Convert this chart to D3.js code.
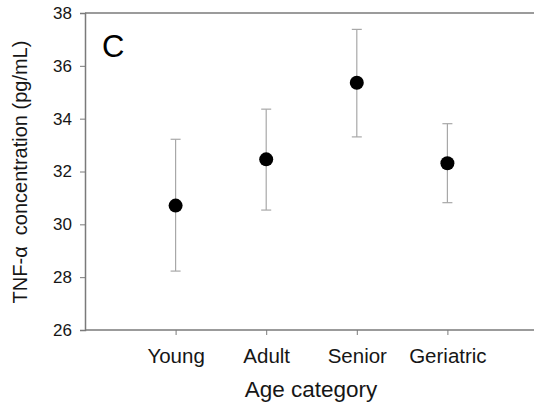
<!DOCTYPE html>
<html>
<head>
<meta charset="utf-8">
<script src="https://cdn.jsdelivr.net/npm/d3@7"></script>
<style>
  html, body { margin: 0; padding: 0; background: #fff; }
  svg { display: block; font-family: "Liberation Sans", Arial, sans-serif; }
</style>
</head>
<body>
<svg id="chart" width="534" height="405"></svg>
<script>
const categories = ["Young", "Adult", "Senior", "Geriatric"];
const means = [30.71, 32.46, 35.36, 32.31];
const upper = [33.22, 34.36, 37.38, 33.81];
const lower = [28.23, 30.54, 33.31, 30.82];
const yTicks = [26, 28, 30, 32, 34, 36, 38];
const panelLabel = "C";
const xTitle = "Age category";
const yTitle = "TNF-\u03b1  concentration (pg/mL)";

(function () {
const svg = d3.select("#chart");
const W = 534, H = 405;
const mLeft = 85, mTop = 13, mBottom = 330;
const fontFam = "'Liberation Sans', Arial, sans-serif";
const textColor = "#161616";

const x = d3.scalePoint().domain(categories).range([mLeft, mLeft + 90.6 * 5]).padding(1);
const y = d3.scaleLinear().domain([26, 38]).range([mBottom, mTop]);

const axisColor = "#7a7a7a";

// frame line at top (extends off right edge)
svg.append("line").attr("x1", mLeft).attr("x2", W).attr("y1", mTop).attr("y2", mTop)
  .attr("stroke", axisColor).attr("stroke-width", 1.5);

// Y axis
const yAxis = svg.append("g").attr("transform", `translate(${mLeft},0)`)
  .call(d3.axisLeft(y).tickValues(yTicks).tickSize(5).tickPadding(8).tickFormat(d3.format("d")));
yAxis.attr("font-family", null).attr("font-size", null);
yAxis.select(".domain").attr("stroke", axisColor).attr("stroke-width", 1.5);
yAxis.selectAll(".tick line").attr("stroke", axisColor).attr("stroke-width", 1);
yAxis.selectAll(".tick text").attr("fill", textColor).style("font-size", "17px")
  .style("font-family", fontFam);

// X axis
const xAxis = svg.append("g").attr("transform", `translate(0,${mBottom})`)
  .call(d3.axisBottom(x).tickSize(5).tickPadding(13));
xAxis.attr("font-family", null).attr("font-size", null);
xAxis.select(".domain").remove();
svg.append("line").attr("x1", mLeft).attr("x2", W).attr("y1", mBottom).attr("y2", mBottom)
  .attr("stroke", axisColor).attr("stroke-width", 1.5);
xAxis.selectAll(".tick line").attr("stroke", axisColor).attr("stroke-width", 1);
xAxis.selectAll(".tick text").attr("fill", textColor).style("font-size", "20.5px")
  .style("font-family", fontFam);

// error bars
const g = svg.append("g");
const data = categories.map((c, i) => ({c, m: means[i], u: upper[i], l: lower[i]}));
const barColor = "#a8a8a8";
g.selectAll(".eb").data(data).join("line").attr("class", "eb")
  .attr("x1", d => x(d.c)).attr("x2", d => x(d.c))
  .attr("y1", d => y(d.u)).attr("y2", d => y(d.l))
  .attr("stroke", barColor).attr("stroke-width", 1.2);
g.selectAll(".capu").data(data).join("line").attr("class", "capu")
  .attr("x1", d => x(d.c) - 5).attr("x2", d => x(d.c) + 5)
  .attr("y1", d => y(d.u)).attr("y2", d => y(d.u))
  .attr("stroke", barColor).attr("stroke-width", 1.2);
g.selectAll(".capl").data(data).join("line").attr("class", "capl")
  .attr("x1", d => x(d.c) - 5).attr("x2", d => x(d.c) + 5)
  .attr("y1", d => y(d.l)).attr("y2", d => y(d.l))
  .attr("stroke", barColor).attr("stroke-width", 1.2);
g.selectAll(".pt").data(data).join("circle").attr("class", "pt")
  .attr("cx", d => x(d.c)).attr("cy", d => y(d.m)).attr("r", 7).attr("fill", "#000");

// panel label
svg.append("text").attr("x", 102).attr("y", 57).text(panelLabel)
  .style("font-size", "31px").style("font-family", fontFam).attr("fill", "#000");

// axis titles
svg.append("text").attr("x", 311).attr("y", 397).attr("text-anchor", "middle")
  .style("font-size", "22.5px").style("font-family", fontFam).attr("fill", textColor).text(xTitle);
svg.append("text").attr("transform", `translate(27,172) rotate(-90)`).attr("text-anchor", "middle")
  .style("font-size", "20px").style("font-family", fontFam).style("white-space", "pre")
  .attr("fill", textColor).text(yTitle);
})();
</script>
</body>
</html>
